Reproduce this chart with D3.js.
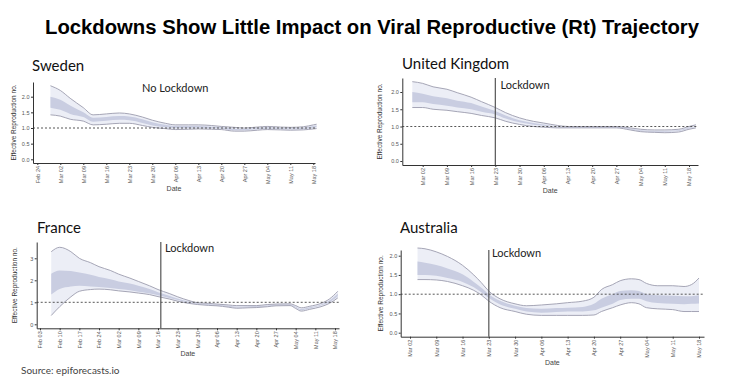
<!DOCTYPE html>
<html>
<head>
<meta charset="utf-8">
<script src="https://cdn.jsdelivr.net/npm/d3@7"></script>
<style>
body { margin: 0; background: #fff; }
svg { display: block; }
</style>
</head>
<body>
<div id="chart"></div>
<script>
// Rt estimates (90% and 50% credible bands)
const swedenDates = ['02-28','03-02','03-05','03-09','03-12','03-16','03-20','03-23','03-27','03-30','04-03','04-06','04-10','04-13','04-17','04-20','04-24','04-27','05-01','05-04','05-08','05-11','05-15','05-18','05-19'];
const swedenHi90 = [2.35,2.2,1.95,1.65,1.42,1.45,1.48,1.45,1.35,1.25,1.15,1.1,1.1,1.1,1.08,1.05,1.02,1.0,1.03,1.05,1.03,1.02,1.04,1.1,1.12];
const swedenHi50 = [2.0,1.9,1.72,1.5,1.33,1.35,1.38,1.37,1.28,1.18,1.1,1.06,1.06,1.06,1.04,1.02,0.98,0.97,1.0,1.02,1.0,0.99,1.01,1.06,1.08];
const swedenLo50 = [1.65,1.58,1.45,1.35,1.2,1.23,1.26,1.25,1.16,1.08,1.02,0.99,1.0,1.01,0.99,0.98,0.93,0.93,0.96,0.98,0.97,0.96,0.97,1.01,1.02];
const swedenLo90 = [1.42,1.38,1.28,1.22,1.1,1.12,1.15,1.15,1.08,1.02,0.98,0.95,0.96,0.97,0.96,0.95,0.9,0.9,0.93,0.95,0.94,0.93,0.94,0.97,0.98];

const ukDates = ['02-28','03-02','03-05','03-09','03-12','03-16','03-19','03-23','03-26','03-30','04-03','04-06','04-10','04-13','04-17','04-20','04-24','04-27','05-01','05-04','05-08','05-11','05-15','05-18','05-20'];
const ukHi90 = [2.3,2.25,2.15,2.08,1.98,1.85,1.72,1.55,1.4,1.25,1.15,1.1,1.03,1.0,1.0,1.0,1.0,1.0,0.96,0.92,0.9,0.9,0.92,1.0,1.05];
const ukHi50 = [2.0,1.95,1.88,1.82,1.75,1.68,1.58,1.45,1.32,1.18,1.1,1.06,1.0,0.99,0.99,0.99,0.99,0.99,0.94,0.89,0.87,0.87,0.89,0.97,1.01];
const ukLo50 = [1.7,1.7,1.65,1.6,1.55,1.5,1.43,1.35,1.23,1.12,1.05,1.02,0.98,0.97,0.97,0.97,0.97,0.97,0.92,0.87,0.85,0.85,0.87,0.94,0.99];
const ukLo90 = [1.55,1.55,1.5,1.47,1.43,1.38,1.32,1.25,1.15,1.06,1.0,0.98,0.96,0.96,0.96,0.96,0.96,0.96,0.9,0.85,0.83,0.82,0.84,0.92,0.96];

const franceDates = ['02-07','02-10','02-14','02-17','02-21','02-24','02-28','03-02','03-06','03-09','03-13','03-16','03-20','03-23','03-27','03-30','04-03','04-06','04-10','04-13','04-17','04-20','04-24','04-27','05-02','05-04','05-06','05-09','05-13','05-16','05-19'];
const franceHi90 = [3.3,3.5,3.3,3.0,2.8,2.62,2.45,2.28,2.1,1.95,1.75,1.58,1.4,1.25,1.08,0.98,0.95,0.92,0.88,0.85,0.85,0.85,0.9,0.92,0.93,0.85,0.75,0.82,0.95,1.15,1.5];
const franceHi50 = [2.3,2.45,2.42,2.35,2.25,2.15,2.05,1.95,1.85,1.75,1.6,1.46,1.3,1.17,1.03,0.95,0.91,0.89,0.84,0.8,0.81,0.82,0.86,0.89,0.9,0.8,0.69,0.77,0.9,1.08,1.4];
const franceLo50 = [1.35,1.6,1.72,1.75,1.72,1.7,1.65,1.6,1.55,1.48,1.4,1.32,1.2,1.1,0.98,0.92,0.88,0.86,0.8,0.76,0.78,0.78,0.82,0.86,0.87,0.76,0.64,0.72,0.85,1.0,1.28];
const franceLo90 = [0.4,0.8,1.25,1.5,1.58,1.6,1.57,1.52,1.47,1.42,1.35,1.26,1.15,1.05,0.95,0.9,0.86,0.84,0.78,0.73,0.75,0.76,0.8,0.84,0.85,0.72,0.6,0.68,0.8,0.95,1.2];

const ausDates = ['03-04','03-06','03-09','03-12','03-16','03-19','03-21','03-23','03-26','03-30','04-02','04-06','04-10','04-13','04-17','04-20','04-22','04-25','04-27','04-30','05-02','05-04','05-07','05-11','05-14','05-16','05-18'];
const ausHi90 = [2.2,2.18,2.1,1.98,1.75,1.5,1.3,1.08,0.88,0.75,0.7,0.72,0.75,0.78,0.82,0.92,1.12,1.25,1.35,1.4,1.38,1.28,1.22,1.22,1.2,1.25,1.42];
const ausHi50 = [1.85,1.82,1.76,1.67,1.52,1.32,1.17,1.0,0.83,0.7,0.64,0.62,0.64,0.65,0.67,0.75,0.88,1.0,1.08,1.1,1.08,1.0,0.97,0.96,0.95,0.95,0.97];
const ausLo50 = [1.5,1.5,1.48,1.42,1.32,1.18,1.05,0.9,0.73,0.62,0.55,0.52,0.54,0.55,0.55,0.58,0.65,0.75,0.85,0.88,0.88,0.82,0.77,0.75,0.74,0.75,0.76];
const ausLo90 = [1.38,1.38,1.37,1.33,1.22,1.1,0.98,0.82,0.65,0.55,0.48,0.45,0.45,0.45,0.45,0.46,0.55,0.65,0.72,0.78,0.75,0.65,0.62,0.6,0.55,0.55,0.55];

const parse = d3.timeParse('%Y-%m-%d');
const toDate = s => parse('2020-' + s);

const width = 750, height = 384;

const panels = [
	{ name: 'Sweden', dates: swedenDates, hi90: swedenHi90, hi50: swedenHi50, lo50: swedenLo50, lo90: swedenLo90,
	  tick0: '02-24', tick1: '05-18', px: [37.3, 313.3], left: 33, right: 315, top: 82, bottom: 163,
	  yMax: 2, py: [159.3, 96.7], yStep: 0.5, fmt: '.1f', lockdown: null,
	  note: 'No Lockdown', noteX: 142, noteY: 92, titleX: 32, titleY: 71, labelOff: 17 },
	{ name: 'United Kingdom', dates: ukDates, hi90: ukHi90, hi50: ukHi50, lo50: ukLo50, lo90: ukLo90,
	  tick0: '03-02', tick1: '05-18', px: [422.7, 689], left: 402.3, right: 698, top: 78, bottom: 165,
	  yMax: 2, py: [161, 92], yStep: 0.5, fmt: '.1f', lockdown: '03-23',
	  note: 'Lockdown', noteX: 500.5, noteY: 89, titleX: 402, titleY: 69, labelOff: 20 },
	{ name: 'France', dates: franceDates, hi90: franceHi90, hi50: franceHi50, lo50: franceLo50, lo90: franceLo90,
	  tick0: '02-03', tick1: '05-18', px: [40, 335], left: 36.7, right: 339, top: 242, bottom: 328.3,
	  yMax: 3, py: [324.3, 258.3], yStep: 1, fmt: 'd', lockdown: '03-17',
	  note: 'Lockdown', noteX: 165, noteY: 252, titleX: 37, titleY: 233, labelOff: 20 },
	{ name: 'Australia', dates: ausDates, hi90: ausHi90, hi50: ausHi50, lo50: ausLo50, lo90: ausLo90,
	  tick0: '03-02', tick1: '05-18', px: [410, 699], left: 400.7, right: 704, top: 250, bottom: 336.7,
	  yMax: 2, py: [332.7, 255.7], yStep: 0.5, fmt: '.1f', lockdown: '03-23',
	  note: 'Lockdown', noteX: 492, noteY: 257, titleX: 400, titleY: 233, labelOff: 18 }
];

const svg = d3.select('#chart').append('svg')
	.attr('width', width)
	.attr('height', height);

svg.append('text')
	.attr('x', 45).attr('y', 34)
	.attr('textLength', 654)
	.attr('lengthAdjust', 'spacingAndGlyphs')
	.style('font-family', '"Liberation Sans", Arial, sans-serif')
	.style('font-weight', 'bold')
	.style('font-size', '20px')
	.attr('fill', '#000')
	.text('Lockdowns Show Little Impact on Viral Reproductive (Rt) Trajectory');

panels.forEach(p => {
	let d0 = toDate(p.tick0), d1 = toDate(p.tick1);
	let xs = d3.scaleTime().domain([d0, d1]).range(p.px);
	let xScale = d3.scaleTime().domain([xs.invert(p.left), xs.invert(p.right)]).range([p.left, p.right]);
	let ys = d3.scaleLinear().domain([0, p.yMax]).range(p.py);
	let yScale = d3.scaleLinear().domain([ys.invert(p.bottom), ys.invert(p.top)]).range([p.bottom, p.top]);

	let rows = p.dates.map((d, i) => ({ date: toDate(d), hi90: p.hi90[i], hi50: p.hi50[i], lo50: p.lo50[i], lo90: p.lo90[i] }));
	let g = svg.append('g').attr('class', 'panel');

	let band = (lo, hi) => d3.area().curve(d3.curveMonotoneX)
		.x(d => xScale(d.date)).y0(d => yScale(d[lo])).y1(d => yScale(d[hi]));
	g.append('path').datum(rows).attr('d', band('lo90', 'hi90')).attr('fill', '#eceef6');
	g.append('path').datum(rows).attr('d', band('lo50', 'hi50')).attr('fill', '#c9cde1');
	['hi90', 'lo90'].forEach(k => {
		g.append('path').datum(rows)
			.attr('d', d3.line().curve(d3.curveMonotoneX).x(d => xScale(d.date)).y(d => yScale(d[k])))
			.attr('fill', 'none').attr('stroke', '#9c9cae').attr('stroke-width', 0.9);
	});

	// Rt = 1 reference
	g.append('line')
		.attr('x1', p.left).attr('x2', p.right)
		.attr('y1', yScale(1)).attr('y2', yScale(1))
		.attr('stroke', '#444').attr('stroke-width', 0.9).attr('stroke-dasharray', '2,2');

	// axes
	let xAxis = d3.axisBottom(xScale)
		.tickValues(d3.timeMonday.range(d0, d3.timeDay.offset(d1, 1)))
		.tickFormat(d3.timeFormat('%b %d'))
		.tickSize(2).tickSizeOuter(0);
	let gx = g.append('g').attr('transform', `translate(0,${p.bottom})`).call(xAxis);
	gx.selectAll('text')
		.attr('transform', 'rotate(-90)')
		.attr('x', -3).attr('y', 0).attr('dy', '0.35em')
		.style('text-anchor', 'end')
		.attr('font-size', '5.5px')
		.attr('fill', '#555');

	let yAxis = d3.axisLeft(yScale)
		.tickValues(d3.range(0, p.yMax + 0.001, p.yStep))
		.tickFormat(d3.format(p.fmt))
		.tickSize(2).tickSizeOuter(0);
	let gy = g.append('g').attr('transform', `translate(${p.left},0)`).call(yAxis);
	gy.selectAll('text').attr('font-size', '5.5px').attr('fill', '#555').attr('x', -3.5);

	[gx, gy].forEach(a => {
		a.select('.domain').attr('stroke', '#333').attr('stroke-width', 1);
		a.selectAll('.tick line').attr('stroke', '#333');
		a.style('font-family', '"Liberation Sans", Arial, sans-serif');
	});

	g.append('text')
		.attr('transform', `translate(${p.left - p.labelOff},${(p.top + p.bottom) / 2}) rotate(-90)`)
		.attr('text-anchor', 'middle')
		.style('font-family', '"Liberation Sans", Arial, sans-serif')
		.style('font-size', '6.5px')
		.attr('fill', '#333')
		.text('Effective Reproduction no.');

	g.append('text')
		.attr('x', (p.left + p.right) / 2).attr('y', p.bottom + 28)
		.attr('text-anchor', 'middle')
		.style('font-family', '"Liberation Sans", Arial, sans-serif')
		.style('font-size', '7px')
		.attr('fill', '#444')
		.text('Date');

	if (p.lockdown) {
		let lx = xScale(toDate(p.lockdown));
		g.append('line')
			.attr('x1', lx).attr('x2', lx)
			.attr('y1', p.top).attr('y2', p.bottom)
			.attr('stroke', '#555').attr('stroke-width', 1.2);
	}

	g.append('text')
		.attr('x', p.noteX).attr('y', p.noteY)
		.style('font-family', 'Lato, "Open Sans", sans-serif')
		.style('font-size', '11px')
		.attr('fill', '#222')
		.text(p.note);

	g.append('text')
		.attr('x', p.titleX).attr('y', p.titleY)
		.style('font-family', 'Lato, "Open Sans", sans-serif')
		.style('font-size', '15px')
		.attr('fill', '#111')
		.text(p.name);
});

svg.append('text')
	.attr('x', 21).attr('y', 374)
	.style('font-family', 'Lato, "Open Sans", sans-serif')
	.style('font-size', '10px')
	.attr('fill', '#444')
	.text('Source: epiforecasts.io');
</script>
</body>
</html>
